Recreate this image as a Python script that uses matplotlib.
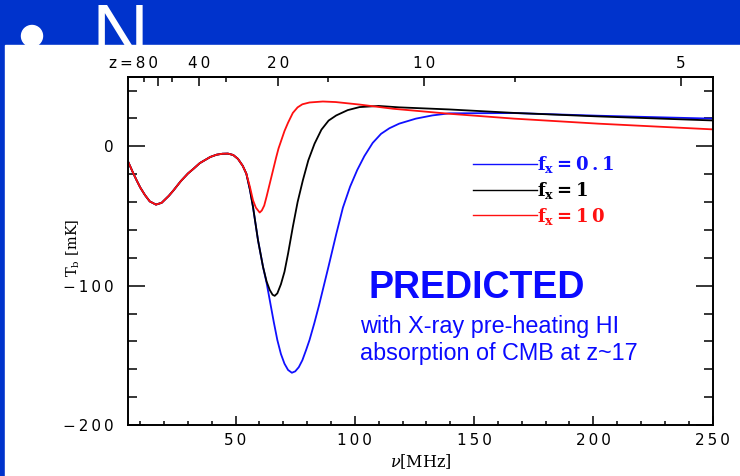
import matplotlib
matplotlib.use("Agg")
import matplotlib.pyplot as plt
from matplotlib.patches import Rectangle, Circle
from matplotlib.ticker import MultipleLocator

plt.rcParams["mathtext.fontset"] = "dejavuserif"

# frequency [MHz] and brightness temperature [mK]
nu_blue = [5, 7, 8.5, 10, 12, 14, 16.6, 19, 22, 24, 27, 30, 32.4, 35, 37.5, 39.4, 42, 44.5,
           46.8, 49, 51, 53, 54.5, 56, 57.3, 59.4, 61.5, 63, 64.5, 66, 67.5, 69, 70.5, 72,
           73.6, 75, 76.5, 78, 79.6, 81, 83, 85, 87, 89, 92.2, 95, 98, 101, 104, 107.5, 111,
           114.5, 118.6, 125.6, 132.5, 139.6, 166.8, 202, 250]
T_blue = [-11.3, -19, -24.4, -29.5, -35, -39.5, -41.8, -40.5, -35.5, -31.5, -25, -19.5, -16,
          -12, -9.5, -7.6, -6, -5.3, -5.2, -6.2, -9, -14, -19.6, -31, -43.5, -67.4, -86.5,
          -98, -112, -126, -139, -149, -156, -160.5, -162.5, -161.5, -158.5, -153.5, -146,
          -139, -127, -114, -100, -86, -63, -44, -29, -17, -7, 2.5, 9, 13, 16.3, 19.9, 22.2,
          23.7, 23.9, 22, 19.9]

nu_black = [5, 7, 8.5, 10, 12, 14, 16.6, 19, 22, 24, 27, 30, 32.4, 35, 37.5, 39.4, 42, 44.5,
            46.8, 49, 51, 53, 54.5, 56, 57.3, 59.4, 61.5, 63, 64.3, 65.5, 66.4, 67.5, 69,
            70.5, 72, 74, 76, 78.2, 80.5, 83.1, 86, 89, 92.2, 97, 102, 110, 118.6, 139.6,
            166.8, 202, 250]
T_black = [-11.3, -19, -24.4, -29.5, -35, -39.5, -41.8, -40.5, -35.5, -31.5, -25, -19.5, -16,
           -12, -9.5, -7.6, -6, -5.3, -5.2, -6.2, -9, -14, -19.6, -31, -43.5, -67.4, -86.5,
           -97, -103, -106.5, -107.3, -105.5, -99, -90, -77, -57.8, -40, -24.4, -10, 1.9,
           12, 18.5, 22.2, 26, 28.2, 29, 28, 26.5, 24, 21.5, 18.6]

nu_red = [5, 7, 8.5, 10, 12, 14, 16.6, 19, 22, 24, 27, 30, 32.4, 35, 37.5, 39.4, 42, 44.5,
          46.8, 49, 51, 53, 54.5, 56, 57.3, 58.5, 60.1, 61, 62, 63, 64, 65, 66, 67, 68,
          69.2, 70.5, 72, 74, 76, 78, 81, 86.6, 92, 102, 116, 139.6, 166.8, 202, 250]
T_red = [-11.3, -19, -24.4, -29.5, -35, -39.5, -41.8, -40.5, -35.5, -31.5, -25, -19.5, -16,
         -12, -9.5, -7.6, -6, -5.3, -5.2, -6.2, -9, -14, -19.6, -29, -38.7, -44, -47.5, -46,
         -42.5, -36, -29, -22, -15, -8, -1.5, 4.5, 11, 17, 24, 28, 30.2, 31.5, 32.2, 31.8,
         30, 27, 23.4, 19.9, 16.3, 12.2]

fx_values = ["0.1", "1", "10"]
series_colors = ["#1010ff", "black", "#ff1010"]

x_ticks = [50, 100, 150, 200, 250]
x_tick_labels = ["50", "100", "150", "200", "250"]
y_ticks = [-200, -100, 0]
y_tick_labels = ["\u2212200", "\u2212100", "0"]
z_major = [80, 40, 20, 10, 5]
z_minor = [120, 60, 30, 15, 7.5]
z_tick_labels = ["z=80", "40", "20", "10", "5"]


def spread(s):
    # the original tick font is very wide, pad the characters a bit
    return "\u2009".join(s)


def z_to_nu(z):
    return 1420.4 / (1 + z)


W, H = 740, 476
fig = plt.figure(figsize=(W / 100, H / 100), dpi=100)


def px(x, y):
    # pixel position (from top-left) -> figure fraction
    return x / W, 1 - y / H


# slide background: blue header band, blue left strip, white panel
fig.add_artist(Rectangle((0, 1 - 45 / H), 1, 45 / H, transform=fig.transFigure,
                         color="#0033cc", zorder=0))
fig.add_artist(Rectangle((0, 0), 5 / W, 1, transform=fig.transFigure,
                         color="#0033cc", zorder=0))
fig.text(*px(91, 60), "N", fontsize=57, family="Liberation Sans",
         color="white", va="baseline", zorder=1)
fig.add_artist(Circle((0.32, (H - 36) / 100), 0.105, transform=fig.dpi_scale_trans,
                      color="white", zorder=1))
fig.add_artist(Rectangle((5 / W, 0), 1, 1 - 45 / H, transform=fig.transFigure,
                         color="white", zorder=2))

ax = fig.add_axes([128.3 / W, 1 - 425 / H, (712.5 - 128.3) / W, (425 - 76.7) / H])
ax.set_zorder(3)

for nu, T, c, fx in zip([nu_blue, nu_black, nu_red], [T_blue, T_black, T_red],
                        series_colors, fx_values):
    ax.plot(nu, T, color=c, lw=1.3,
            label="f$_\\mathbf{x}$\u2009=\u2009" + spread(fx))

ax.set_xlim(5, 250)
ax.set_ylim(-200, 50)

ax.set_xticks(x_ticks, [spread(s) for s in x_tick_labels])
ax.set_yticks(y_ticks, [spread(s) for s in y_tick_labels])
ax.xaxis.set_minor_locator(MultipleLocator(10))
ax.yaxis.set_minor_locator(MultipleLocator(20))
ax.tick_params(axis="x", which="major", direction="in", length=6.5, width=1.1,
               labelsize=11, pad=5.5, top=False)
ax.tick_params(axis="x", which="minor", direction="in", length=3.2, width=1.1, top=False)
ax.tick_params(axis="y", which="major", direction="in", length=12, width=1.1,
               labelsize=11, pad=10.5, right=True)
ax.tick_params(axis="y", which="minor", direction="in", length=6.3, width=1.1, right=True)
for sp in ax.spines.values():
    sp.set_linewidth(1.4)

# redshift axis along the top
top = ax.secondary_xaxis("top")
top.set_xticks([z_to_nu(z) for z in z_major], [spread(s) for s in z_tick_labels])
top.set_xticks([z_to_nu(z) for z in z_minor], minor=True)
top.tick_params(which="major", direction="in", length=6.5, width=1.1, labelsize=11, pad=4)
top.tick_params(which="minor", direction="in", length=3.5, width=1.1)
top.spines["top"].set_linewidth(1.4)
top.get_xticklabels()[0].set_ha("right")

ax.set_xlabel("$\\nu$[MHz]", fontsize=11.5, family="DejaVu Serif", labelpad=3)
ax.set_ylabel("T$_\\mathrm{b}$ [mK]", fontsize=10.5, family="DejaVu Serif")
ax.yaxis.set_label_coords(-0.080, 0.51)

leg = ax.legend(loc="upper left", bbox_to_anchor=(0.563, 0.824), frameon=False,
                handlelength=3.5, handletextpad=0.0, labelspacing=0.26,
                prop={"family": "DejaVu Serif", "weight": "bold", "size": 13},
                labelcolor="linecolor")
for h in leg.get_lines():
    h.set_linewidth(1.0)

ax.text(*px(476.7, 288), "PREDICTED", transform=fig.transFigure, fontsize=27,
        fontweight="bold", family="Liberation Sans", color="#0a0aff",
        ha="center", va="center")
ax.text(*px(360, 332.7), "with X-ray pre-heating HI", transform=fig.transFigure,
        fontsize=16.8, family="Liberation Sans", color="#0a0aff", va="baseline")
ax.text(*px(360, 360), "absorption of CMB at z~17", transform=fig.transFigure,
        fontsize=16.8, family="Liberation Sans", color="#0a0aff", va="baseline")

fig.savefig("out.png", dpi=100)
